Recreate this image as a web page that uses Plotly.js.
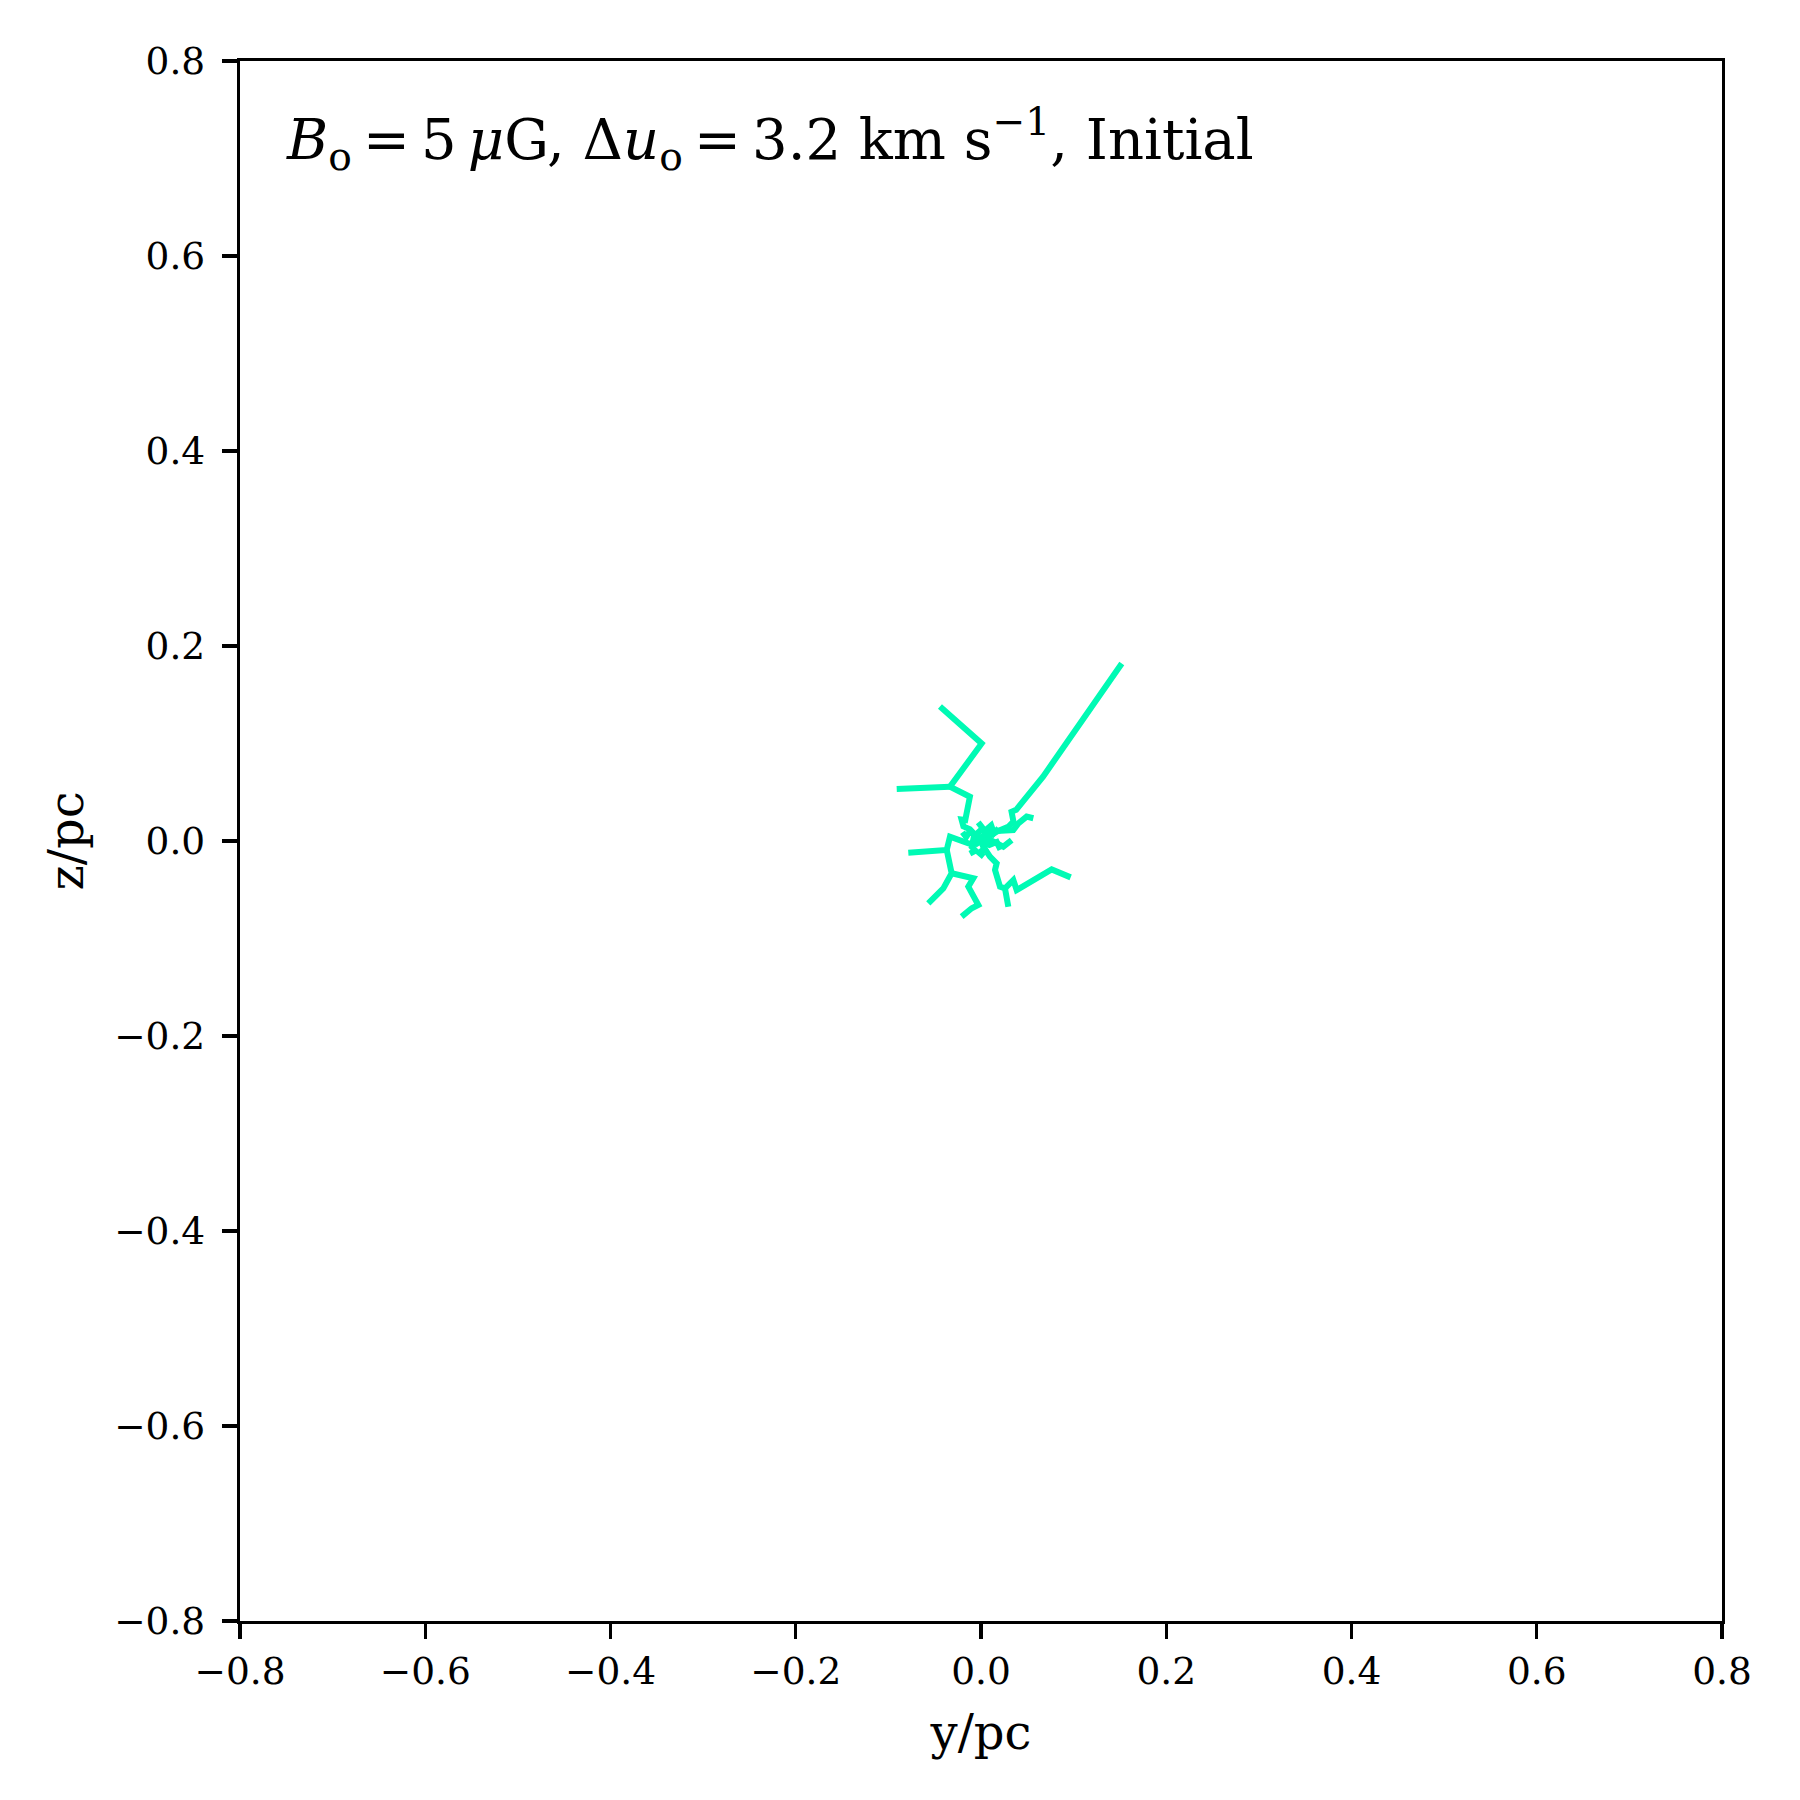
<!DOCTYPE html>
<html>
<head>
<meta charset="utf-8">
<script src="https://cdn.plot.ly/plotly-3.0.1.min.js"></script>
<style>html,body{margin:0;padding:0;background:#fff;}#plot{width:1800px;height:1800px;}</style>
</head>
<body>
<div id="plot"></div>
<script>
// Tick values / labels
const tickVals = [-0.8, -0.6, -0.4, -0.2, 0.0, 0.2, 0.4, 0.6, 0.8];
const tickText = ["\u22120.8", "\u22120.6", "\u22120.4", "\u22120.2", "0.0", "0.2", "0.4", "0.6", "0.8"];

// Field-line branches (y/pc, z/pc)
const neX = [0.000, 0.010, 0.018, 0.030, 0.035, 0.033, 0.038, 0.067, 0.152];
const neY = [0.000, 0.006, 0.010, 0.015, 0.020, 0.030, 0.032, 0.066, 0.182];

const nwX = [0.000, -0.005, -0.012, -0.019, -0.021, -0.017, -0.012, -0.0335, 0.0007, -0.0443];
const nwY = [0.000, 0.006, 0.012, 0.015, 0.022, 0.0215, 0.0454, 0.0557, 0.100, 0.138];

const nwSubX = [-0.0335, -0.091];
const nwSubY = [0.0557, 0.0533];

const wX = [0.000, -0.005, -0.0137, -0.0227, -0.0335, -0.037, -0.0785];
const wY = [0.000, -0.003, -0.0024, 0.001, 0.0044, -0.0092, -0.012];

const swX = [-0.037, -0.0317, -0.0407, -0.0569];
const swY = [-0.0092, -0.0331, -0.0486, -0.0639];

const sswX = [-0.0317, -0.0083, -0.0137, -0.0029, -0.010, -0.0209];
const sswY = [-0.0331, -0.0383, -0.0468, -0.0656, -0.069, -0.0776];

const sX = [0.000, 0.002, 0.0097, 0.0169, 0.0151, 0.0205, 0.0259, 0.0295];
const sY = [0.000, -0.005, -0.016, -0.0229, -0.0297, -0.0468, -0.0486, -0.0674];

const seX = [0.0259, 0.0349, 0.0385, 0.0763, 0.0968];
const seY = [-0.0486, -0.040, -0.0503, -0.0291, -0.0373];

const eX = [0.000, 0.008, 0.0241, 0.0331];
const eY = [0.000, 0.002, -0.0058, 0.001];

const e2X = [0.000, 0.012, 0.0349, 0.0403, 0.0493, 0.0565];
const e2Y = [0.000, 0.010, 0.0113, 0.018, 0.025, 0.0233];

const c1X = [0.000, -0.008, -0.010, -0.006, -0.012];
const c1Y = [0.000, 0.003, -0.006, -0.010, -0.013];
const c2X = [0.000, 0.004, -0.002, 0.003];
const c2Y = [0.000, -0.008, -0.012, -0.016];
const c3X = [0.000, 0.006, 0.011, 0.014, 0.019];
const c3Y = [0.000, 0.012, 0.016, 0.008, 0.013];
const c4X = [0.000, -0.012, -0.016, -0.020];
const c4Y = [0.000, 0.010, 0.004, 0.009];
const c5X = [0.000, 0.009, 0.017, 0.021];
const c5Y = [0.000, -0.004, -0.001, -0.009];
const c6X = [0.000, -0.004, 0.002, -0.003];
const c6Y = [0.000, 0.008, 0.013, 0.019];

const branches = [
  [neX, neY], [nwX, nwY], [nwSubX, nwSubY], [wX, wY], [swX, swY], [sswX, sswY],
  [sX, sY], [seX, seY], [eX, eY], [e2X, e2Y], [c1X, c1Y], [c2X, c2Y], [c3X, c3Y],
  [c4X, c4Y], [c5X, c5Y], [c6X, c6Y]
];

const lineColor = 'rgb(0,250,180)';
const traces = branches.map(b => ({
  x: b[0], y: b[1], type: 'scatter', mode: 'lines',
  line: {color: lineColor, width: 6},
  showlegend: false, hoverinfo: 'skip'
}));

const font = {family: 'DejaVu Serif', color: '#000'};

const axisCommon = {
  range: [-0.8, 0.8],
  tickmode: 'array',
  tickvals: tickVals,
  ticktext: tickText,
  ticks: 'outside',
  ticklen: 15,
  tickwidth: 3.3,
  tickcolor: '#000',
  showline: true,
  linecolor: '#000',
  linewidth: 3.3,
  mirror: true,
  showgrid: false,
  zeroline: false,
  tickfont: Object.assign({size: 37.5}, font)
};

const layout = {
  width: 1800, height: 1800,
  margin: {l: 240, r: 78, t: 61, b: 179},
  paper_bgcolor: '#fff', plot_bgcolor: '#fff',
  font: font,
  xaxis: Object.assign({}, axisCommon, {
    ticklabelstandoff: 0,
    title: {text: 'y/pc', font: Object.assign({size: 48}, font), standoff: 24}
  }),
  yaxis: Object.assign({}, axisCommon, {
    ticklabelstandoff: 9,
    title: {text: 'z/pc', font: Object.assign({size: 48}, font), standoff: 16}
  }),
  annotations: [{
    xref: 'paper', yref: 'paper', x: 0.03, y: 0.977,
    xanchor: 'left', yanchor: 'top', showarrow: false,
    text: '<i>B</i><sub>o</sub>\u2009=\u20095\u2009<i>\u03bc</i>G, \u0394<i>u</i><sub>o</sub>\u2009=\u20093.2 km s<sup>\u22121</sup>, Initial',
    font: Object.assign({size: 56}, font)
  }]
};

Plotly.newPlot('plot', traces, layout, {staticPlot: true});
</script>
</body>
</html>
